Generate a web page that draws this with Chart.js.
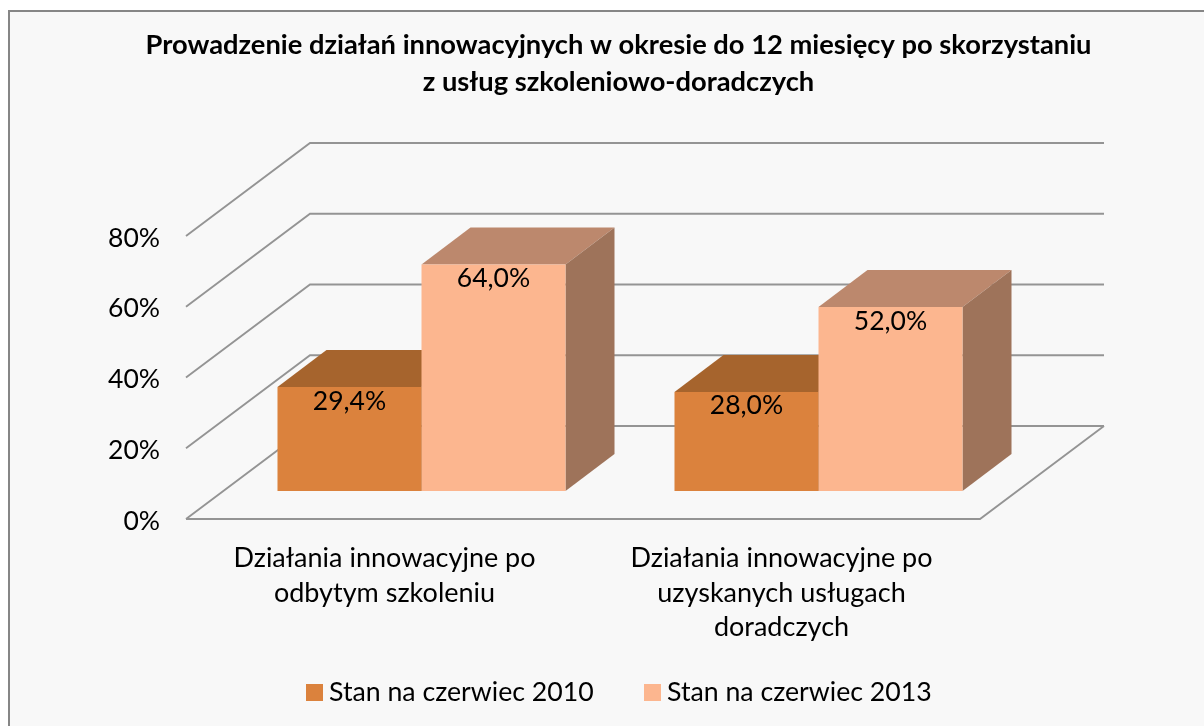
<!DOCTYPE html>
<html lang="pl">
<head>
<meta charset="utf-8">
<title>Działania innowacyjne</title>
<script src="https://cdn.jsdelivr.net/npm/chart.js@4/dist/chart.umd.min.js"></script>
<style>
    html, body { margin: 0; padding: 0; background: #fff; overflow: hidden; }
    #frame {
        position: absolute; left: 8px; top: 10px; width: 1196px; height: 716px;
        box-sizing: border-box; background: #f8f8f8;
        border-left: 2px solid #868686; border-top: 2px solid #868686;
    }
    canvas { position: absolute; left: 0; top: 0; }
</style>
</head>
<body>
<div id="frame"></div>
<canvas id="chart" width="1204" height="726"></canvas>
<script>
// Data
const categories = [
    ['Działania innowacyjne po', 'odbytym szkoleniu'],
    ['Działania innowacyjne po', 'uzyskanych usługach', 'doradczych']
];
const seriesNames = ['Stan na czerwiec 2010', 'Stan na czerwiec 2013'];
const values2010 = [29.4, 28.0];
const values2013 = [64.0, 52.0];
const yTicks = [0, 20, 40, 60, 80];

// Colours
const frontColors = ['#db823d', '#fcb68f'];
const topColors = ['#a6642d', '#bc886d'];
const sideColors = ['#85502a', '#9e735a'];
const gridColor = '#949494';
const fontFamily = 'Lato, "Noto Sans", sans-serif';

// 3D look
const floor = { dx: 124, dy: 93, inset: 37 };
const box = { dx: 49, dy: 37 };
const barLift = 28;       // bars stand this far back on the floor
const plotHeight = 283;

function polygon(ctx, color, points) {
    ctx.fillStyle = color;
    ctx.beginPath();
    points.forEach((p, i) => i ? ctx.lineTo(p[0], p[1]) : ctx.moveTo(p[0], p[1]));
    ctx.closePath();
    ctx.fill();
}

const chart3d = {
    id: 'chart3d',

    beforeDatasetsDraw(chart) {
        const { ctx, chartArea, scales } = chart;
        const left = chartArea.left - floor.inset;
        const right = chartArea.right - floor.inset;

        // Floor and walls, taken from the y scale
        ctx.save();
        ctx.strokeStyle = gridColor;
        ctx.lineWidth = 1.9;
        yTicks.forEach(tick => {
            const y = scales.y.getPixelForValue(tick);
            ctx.beginPath();
            ctx.moveTo(left, y);
            ctx.lineTo(left + floor.dx, y - floor.dy);
            ctx.lineTo(right + floor.dx, y - floor.dy);
            ctx.stroke();
        });
        const y0 = scales.y.getPixelForValue(0);
        ctx.beginPath();
        ctx.moveTo(left, y0);
        ctx.lineTo(right, y0);
        ctx.lineTo(right + floor.dx, y0 - floor.dy);
        ctx.stroke();
        ctx.restore();

        // Top and side of every bar, the library paints the fronts over them
        chart.data.datasets.forEach((ds, i) => {
            chart.getDatasetMeta(i).data.forEach(bar => {
                const l = bar.x - bar.width / 2;
                const r = bar.x + bar.width / 2;
                polygon(ctx, topColors[i], [
                    [l, bar.y], [r, bar.y],
                    [r + box.dx, bar.y - box.dy], [l + box.dx, bar.y - box.dy]
                ]);
                polygon(ctx, sideColors[i], [
                    [r, bar.y], [r + box.dx, bar.y - box.dy],
                    [r + box.dx, bar.base - box.dy], [r, bar.base]
                ]);
            });
        });
    },

    // Value labels and legend
    afterDatasetsDraw(chart) {
        const { ctx } = chart;
        ctx.save();
        ctx.fillStyle = '#000';
        ctx.font = '26.5px ' + fontFamily;
        ctx.textAlign = 'center';
        ctx.textBaseline = 'middle';
        chart.data.datasets.forEach((ds, i) => {
            chart.getDatasetMeta(i).data.forEach((bar, j) => {
                const text = ds.data[j].toFixed(1).replace('.', ',') + '%';
                ctx.fillText(text, bar.x, bar.y + 14);
            });
        });

        const legendX = [306, 644];
        ctx.font = '26.7px ' + fontFamily;
        ctx.textAlign = 'left';
        seriesNames.forEach((name, i) => {
            ctx.fillStyle = frontColors[i];
            ctx.fillRect(legendX[i], 684, 17, 17);
            ctx.fillStyle = '#000';
            ctx.fillText(name, legendX[i] + 23, 692);
        });
        ctx.restore();
    }
};

new Chart(document.getElementById('chart').getContext('2d'), {
    type: 'bar',
    data: {
        labels: categories,
        datasets: [
            { label: seriesNames[0], data: values2010, backgroundColor: frontColors[0], yAxisID: 'yBars' },
            { label: seriesNames[1], data: values2013, backgroundColor: frontColors[1], yAxisID: 'yBars' }
        ]
    },
    options: {
        responsive: false,
        animation: false,
        devicePixelRatio: 1,
        layout: { padding: { left: 33 } },
        categoryPercentage: 0.7255,
        barPercentage: 1,
        plugins: {
            legend: { display: false },
            tooltip: { enabled: false },
            title: {
                display: true,
                text: [
                    'Prowadzenie działań innowacyjnych w okresie do 12 miesięcy po skorzystaniu',
                    'z usług szkoleniowo-doradczych'
                ],
                color: '#000',
                font: { family: fontFamily, size: 27.3, weight: 'bold', lineHeight: 1.355 },
                padding: { top: 27, bottom: 135 }
            }
        },
        scales: {
            x: {
                grid: { display: false },
                border: { display: false },
                ticks: {
                    color: '#000',
                    font: { family: fontFamily, size: 27, lineHeight: 1.28 },
                    padding: 14,
                    labelOffset: -floor.inset,
                    autoSkip: false,
                    maxRotation: 0
                },
                afterFit(scale) { scale.height = 207; }
            },
            y: {
                position: 'left',
                min: 0,
                max: 80,
                grid: { display: false },
                border: { display: false },
                afterBuildTicks(scale) { scale.ticks = yTicks.map(value => ({ value })); },
                ticks: {
                    color: '#000',
                    font: { family: fontFamily, size: 26.5 },
                    padding: 55,
                    labelOffset: 2,
                    callback: value => value + '%'
                },
                afterFit(scale) { scale.width = 190; }
            },
            // Same scale as y, lifted so the bars stand back on the floor
            yBars: {
                position: 'right',
                min: -barLift * 80 / plotHeight,
                max: 80 - barLift * 80 / plotHeight,
                grid: { display: false },
                border: { display: false },
                ticks: { display: false },
                afterFit(scale) { scale.width = 187; }
            }
        }
    },
    plugins: [chart3d]
});
</script>
</body>
</html>
